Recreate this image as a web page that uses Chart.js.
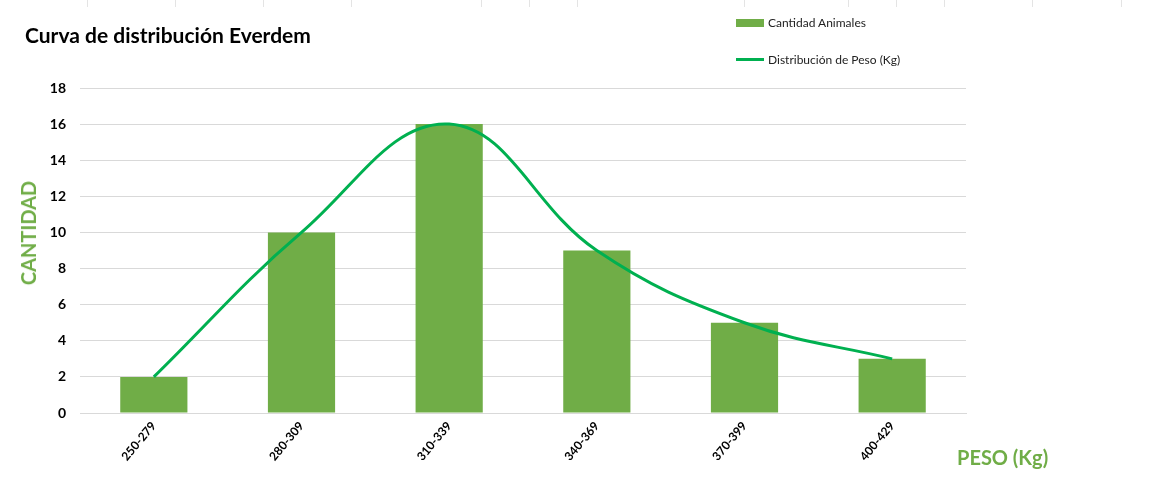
<!DOCTYPE html>
<html>
<head>
<meta charset="utf-8">
<script src="https://cdn.jsdelivr.net/npm/chart.js@4"></script>
<style>
  html, body { margin: 0; padding: 0; background: #fff; }
  #wrap { position: relative; width: 1153px; height: 496px; font-family: Lato, "Open Sans", sans-serif; }
  #chart { position: absolute; left: 0; top: 0; }
  .title { position: absolute; left: 25px; top: 22px; font-size: 21px; font-weight: bold; color: #000; }
  .legend { position: absolute; left: 736px; font-size: 12px; color: #222; display: flex; align-items: center; }
  .legend .sw { display: inline-block; width: 28px; margin-right: 4px; }
  .axis-title { position: absolute; font-size: 20px; font-weight: bold; color: #70ad47; }
  .ytitle { left: 28px; top: 233px; transform: translate(-50%, -50%) rotate(-90deg); white-space: nowrap; }
  .cell { position: absolute; top: 0; width: 1px; height: 7px; background: #e4e4e4; }
</style>
</head>
<body>
<div id="wrap">
  <canvas id="chart" width="1153" height="496"></canvas>
  <div class="title">Curva de distribución Everdem</div>
  <div class="legend" style="top: 15px;"><span class="sw" style="height: 8px; background: #70ad47;"></span>Cantidad Animales</div>
  <div class="legend" style="top: 52px;"><span class="sw" style="height: 3px; background: #00b050;"></span>Distribución de Peso (Kg)</div>
  <div class="axis-title ytitle">CANTIDAD</div>
  <div class="axis-title" style="left: 957px; top: 445px;">PESO (Kg)</div>
</div>
<script>
const categories = ['250-279', '280-309', '310-339', '340-369', '370-399', '400-429'];
const animalCounts = [2, 10, 16, 9, 5, 3];
const weightCurve = [2, 10, 16, 9, 5, 3];
const yTicks = [0, 2, 4, 6, 8, 10, 12, 14, 16, 18];

// faint spreadsheet cell borders along the top edge
[87, 175, 263, 351, 481, 529, 577, 744, 848, 896, 944, 1032, 1121].forEach(x => {
    const d = document.createElement('div');
    d.className = 'cell';
    d.style.left = x + 'px';
    document.getElementById('wrap').appendChild(d);
});

Chart.defaults.font.family = 'Lato, "Open Sans", sans-serif';

const ctx = document.getElementById('chart').getContext('2d');
new Chart(ctx, {
    data: {
        labels: categories,
        datasets: [{
            type: 'line',
            label: 'Distribución de Peso (Kg)',
            data: weightCurve,
            borderColor: '#00b050',
            borderWidth: 3,
            pointRadius: 0,
            tension: 0.4,
            fill: false,
            order: 0
        }, {
            type: 'bar',
            label: 'Cantidad Animales',
            data: animalCounts,
            backgroundColor: '#70ad47',
            categoryPercentage: 1,
            barPercentage: 0.455,
            order: 1
        }]
    },
    options: {
        responsive: false,
        animation: false,
        layout: { padding: { left: 0, right: 187, top: 88, bottom: 0 } },
        plugins: {
            legend: { display: false },
            title: { display: false },
            tooltip: { enabled: false }
        },
        scales: {
            x: {
                grid: { display: false, drawTicks: false },
                border: { display: true, color: '#d9d9d9', width: 1 },
                ticks: {
                    color: '#000',
                    font: { size: 12, weight: 'bold' },
                    minRotation: 50,
                    maxRotation: 50,
                    padding: 6
                },
                afterFit: scale => { scale.height = 83; }
            },
            y: {
                min: 0,
                max: 18,
                afterBuildTicks: scale => { scale.ticks = yTicks.map(v => ({ value: v })); },
                grid: { color: '#d9d9d9', drawTicks: false },
                border: { display: false },
                ticks: {
                    color: '#000',
                    font: { size: 14, weight: 'bold' },
                    padding: 14
                },
                afterFit: scale => { scale.width = 80; }
            }
        }
    }
});
</script>
</body>
</html>
